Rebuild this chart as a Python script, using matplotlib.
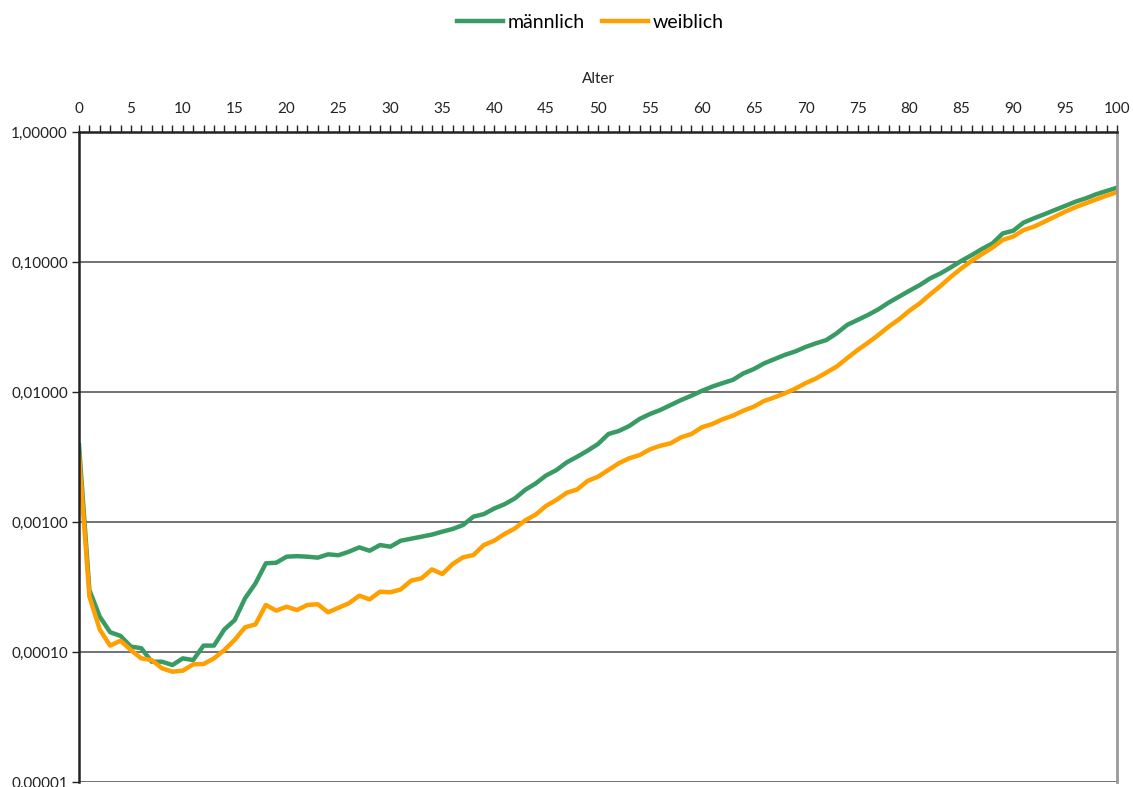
import matplotlib
matplotlib.use("Agg")
import matplotlib.pyplot as plt
from matplotlib.ticker import FixedLocator, MultipleLocator, FuncFormatter, NullLocator

plt.rcParams['font.family'] = ['Lato', 'DejaVu Sans']

ages = list(range(0, 101))

maennlich = [
    0.0039, 0.0003, 0.000187, 0.000142, 0.000133, 0.00011, 0.000107, 0.0000842, 0.0000842, 0.0000794,
    0.0000893, 0.0000867, 0.000112, 0.000112, 0.000149, 0.000176, 0.000259, 0.000337, 0.000481, 0.000486,
    0.000541, 0.000546, 0.000541, 0.000532, 0.000564, 0.000555, 0.000591, 0.000638, 0.000601, 0.000665,
    0.000646, 0.000718, 0.000744, 0.000771, 0.0008, 0.000843, 0.000884, 0.000948, 0.0011, 0.00115,
    0.00127, 0.00137, 0.00152, 0.00177, 0.00198, 0.00228, 0.00251, 0.00288, 0.00318, 0.00354,
    0.00398, 0.00475, 0.00501, 0.00547, 0.0062, 0.00677, 0.00727, 0.00794, 0.00867, 0.00937,
    0.0102, 0.011, 0.0117, 0.0124, 0.0139, 0.015, 0.0166, 0.0179, 0.0193, 0.0205,
    0.0222, 0.0237, 0.0251, 0.0283, 0.0328, 0.0358, 0.0391, 0.0432, 0.0487, 0.0541,
    0.0601, 0.0665, 0.0748, 0.0818, 0.091, 0.102, 0.113, 0.126, 0.139, 0.166,
    0.174, 0.201, 0.217, 0.233, 0.251, 0.27, 0.291, 0.309, 0.332, 0.352,
    0.373,
]

weiblich = [
    0.00327, 0.000267, 0.000149, 0.000112, 0.000122, 0.0001035, 0.0000893, 0.0000867, 0.0000749, 0.0000706,
    0.0000718, 0.0000804, 0.0000808, 0.0000893, 0.0001035, 0.000124, 0.000155, 0.000163, 0.00023, 0.000208,
    0.000223, 0.00021, 0.00023, 0.000233, 0.000202, 0.000219, 0.000237, 0.000271, 0.000254, 0.000291,
    0.000288, 0.000303, 0.000354, 0.000369, 0.000432, 0.000398, 0.000475, 0.000535, 0.000557, 0.000665,
    0.000718, 0.000809, 0.000893, 0.00103, 0.00114, 0.00133, 0.00148, 0.00168, 0.00178, 0.00207,
    0.00223, 0.00251, 0.00283, 0.00309, 0.00327, 0.00362, 0.00386, 0.00403, 0.00448, 0.00475,
    0.00535, 0.00567, 0.00617, 0.00658, 0.00718, 0.0077, 0.00853, 0.0091, 0.00977, 0.0106,
    0.0117, 0.0127, 0.0141, 0.0157, 0.0182, 0.021, 0.0239, 0.0274, 0.0318, 0.0362,
    0.0422, 0.0481, 0.0564, 0.0654, 0.077, 0.0893, 0.102, 0.115, 0.129, 0.148,
    0.157, 0.176, 0.187, 0.204, 0.223, 0.244, 0.264, 0.283, 0.303, 0.324,
    0.344,
]

y_ticks = [0.00001, 0.0001, 0.001, 0.01, 0.1, 1.0]
x_major = list(range(0, 101, 5))

green = '#379b63'
orange = '#ff9f00'

fig = plt.figure(figsize=(11.33, 7.87), dpi=100)
W, H = 1133, 787
x0, x1 = 79, 1117
yt, yb = 132, 782
ax = fig.add_axes([x0 / W, (H - yb) / H, (x1 - x0) / W, (yb - yt) / H])

ax.plot(ages, maennlich, color=green, lw=3.2, label='männlich', solid_joinstyle='round')
ax.plot(ages, weiblich, color=orange, lw=3.2, label='weiblich', solid_joinstyle='round')

ax.set_yscale('log')
ax.set_ylim(0.00001, 1.0)
ax.set_xlim(0, 100)

ax.yaxis.set_major_locator(FixedLocator(y_ticks))
ax.yaxis.set_minor_locator(NullLocator())
ax.yaxis.set_major_formatter(FuncFormatter(lambda v, p: f"{v:.5f}".replace('.', ',')))
ax.grid(True, axis='y', color='#5a5a5a', lw=1.2)
ax.set_axisbelow(True)

ax.xaxis.tick_top()
ax.xaxis.set_label_position('top')
ax.xaxis.set_major_locator(FixedLocator(x_major))
ax.xaxis.set_minor_locator(MultipleLocator(1))
ax.tick_params(axis='x', which='both', direction='out', length=5, width=1, color='#222222',
               labelsize=11, pad=6.5, labelcolor='#222222')
ax.tick_params(axis='y', which='major', direction='out', length=5, width=1, color='#222222',
               labelsize=11, pad=3, labelcolor='#222222')
ax.set_xlabel('Alter', fontsize=11, color='#222222', labelpad=13.5)

for s in ['left', 'top']:
    ax.spines[s].set_color('#222222')
    ax.spines[s].set_linewidth(1.8)
ax.spines['right'].set_color('#999999')
ax.spines['right'].set_linewidth(2)
ax.spines['bottom'].set_visible(False)

fig.legend(loc='center', bbox_to_anchor=(590 / W, 1 - 22 / H), ncol=2, frameon=False,
           fontsize=14, handlelength=2.4, handletextpad=0.2, columnspacing=0.9)

fig.savefig('out.png', dpi=100)
